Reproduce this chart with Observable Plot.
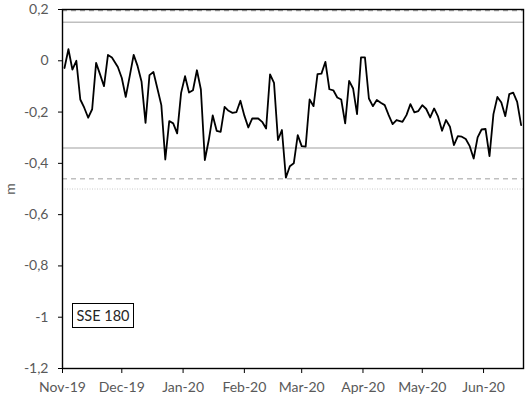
<!DOCTYPE html>
<html><head><meta charset="utf-8">
<script src="https://cdn.jsdelivr.net/npm/d3@7"></script>
<script src="https://cdn.jsdelivr.net/npm/@observablehq/plot@0.6"></script>
<style>
body{margin:0;background:#fff;}
#wrap{position:relative;width:530px;height:399px;}
#badge{position:absolute;left:72px;top:303px;width:60px;height:23px;border:1px solid #000;font:14.5px Lato, sans-serif;color:#262626;display:flex;align-items:center;justify-content:center;background:#fff;}
</style></head><body>
<div id="wrap"><div id="badge">SSE 180</div></div>
<script>
const dates = [
"2019-11-02","2019-11-04","2019-11-06","2019-11-08","2019-11-10","2019-11-12","2019-11-14","2019-11-16","2019-11-18","2019-11-20",
"2019-11-22","2019-11-24","2019-11-26","2019-11-29","2019-12-01","2019-12-03","2019-12-05","2019-12-07","2019-12-09","2019-12-11",
"2019-12-13","2019-12-15","2019-12-17","2019-12-19","2019-12-21","2019-12-23","2019-12-25","2019-12-27","2019-12-29","2019-12-31",
"2020-01-02","2020-01-04","2020-01-06","2020-01-08","2020-01-10","2020-01-12","2020-01-14","2020-01-16","2020-01-18","2020-01-20",
"2020-01-22","2020-01-24","2020-01-26","2020-01-28","2020-01-30","2020-02-01","2020-02-03","2020-02-05","2020-02-08","2020-02-10",
"2020-02-12","2020-02-14","2020-02-16","2020-02-18","2020-02-20","2020-02-22","2020-02-24","2020-02-26","2020-02-28","2020-03-01",
"2020-03-03","2020-03-05","2020-03-07","2020-03-09","2020-03-11","2020-03-13","2020-03-15","2020-03-17","2020-03-19","2020-03-21",
"2020-03-23","2020-03-25","2020-03-27","2020-03-29","2020-03-31","2020-04-02","2020-04-04","2020-04-06","2020-04-08","2020-04-10",
"2020-04-12","2020-04-14","2020-04-16","2020-04-18","2020-04-21","2020-04-23","2020-04-25","2020-04-27","2020-04-29","2020-05-01",
"2020-05-03","2020-05-05","2020-05-07","2020-05-09","2020-05-11","2020-05-13","2020-05-15","2020-05-17","2020-05-19","2020-05-21",
"2020-05-23","2020-05-25","2020-05-27","2020-05-29","2020-05-31","2020-06-02","2020-06-04","2020-06-06","2020-06-08","2020-06-10",
"2020-06-12","2020-06-14","2020-06-16","2020-06-18","2020-06-20"
];
const levels = [
-0.028, 0.045, -0.034, 0.000, -0.151, -0.183, -0.222, -0.189, -0.008, -0.053,
-0.099, 0.023, 0.013, -0.024, -0.067, -0.141, -0.060, 0.023, -0.021, -0.082,
-0.242, -0.056, -0.044, -0.108, -0.173, -0.385, -0.235, -0.244, -0.283, -0.125,
-0.060, -0.124, -0.115, -0.037, -0.112, -0.387, -0.309, -0.213, -0.273, -0.277,
-0.180, -0.195, -0.203, -0.200, -0.156, -0.214, -0.260, -0.225, -0.225, -0.238,
-0.264, -0.053, -0.086, -0.309, -0.270, -0.456, -0.411, -0.400, -0.290, -0.333,
-0.335, -0.151, -0.177, -0.052, -0.050, -0.004, -0.111, -0.115, -0.143, -0.151,
-0.244, -0.078, -0.108, -0.208, 0.013, 0.013, -0.147, -0.177, -0.153, -0.164,
-0.173, -0.212, -0.247, -0.231, -0.238, -0.212, -0.169, -0.201, -0.196, -0.173,
-0.188, -0.221, -0.186, -0.218, -0.273, -0.231, -0.257, -0.329, -0.294, -0.296,
-0.305, -0.333, -0.381, -0.299, -0.268, -0.266, -0.372, -0.208, -0.141, -0.163,
-0.216, -0.130, -0.124, -0.160, -0.251
];
const monthTicks = ["2019-11-01","2019-12-01","2020-01-01","2020-02-01","2020-03-01","2020-04-01","2020-05-01","2020-06-01"];
const yTicks = [-1.2, -1.0, -0.8, -0.6, -0.4, -0.2, 0, 0.2];
const xStart = "2019-11-01";
const xEnd = "2020-06-21T05:00";
const refTopDashed = 0.2;
const refUpperSolid = 0.15;
const refLowerSolid = -0.34;
const refLowerDashed = -0.46;
const refDotted = -0.5;
const yLabel = "m";

const parse = s => new Date(s + (s.length === 10 ? "T00:00:00Z" : ":00Z"));
const rows = dates.map((d, i) => ({date: parse(d), value: levels[i]}));
const fmt = d => d === 0 ? "0" : d.toFixed(1).replace(/\.0$/, "").replace(".", ",");

const chart = Plot.plot({
  width: 530, height: 399,
  marginLeft: 62, marginRight: 7, marginTop: 9, marginBottom: 31,
  style: {fontFamily: "Lato, sans-serif", fontSize: "14px", color: "#595959", background: "#fff"},
  x: {type: "utc", domain: [parse(xStart), parse(xEnd)]},
  y: {domain: [-1.2, 0.2]},
  marks: [
    Plot.ruleY([refTopDashed], {stroke: "#a6a6a6", strokeDasharray: "5,4", strokeWidth: 1.2, dy: 1.2}),
    Plot.ruleY([refUpperSolid], {stroke: "#bfbfbf", strokeWidth: 1.4}),
    Plot.ruleY([refLowerSolid], {stroke: "#bfbfbf", strokeWidth: 1.4}),
    Plot.ruleY([refLowerDashed], {stroke: "#bfbfbf", strokeWidth: 1.3, strokeDasharray: "5,4"}),
    Plot.ruleY([refDotted], {stroke: "#c8c8c8", strokeWidth: 1, strokeDasharray: "1,1.5"}),
    Plot.lineY(rows, {x: "date", y: "value", stroke: "#000", strokeWidth: 1.8}),
    Plot.frame({stroke: "#000", strokeWidth: 1.4}),
    Plot.axisY({ticks: yTicks, tickFormat: fmt, tickSize: 4, tickPadding: 10, stroke: "#000",
      label: yLabel, labelAnchor: "center", labelArrow: "none", labelOffset: 57}),
    Plot.axisX({ticks: monthTicks.map(parse), tickFormat: d3.utcFormat("%b-%y"), tickSize: 5, tickPadding: 9, stroke: "#000", label: null})
  ]
});
document.getElementById("wrap").prepend(chart);
</script></body></html>
